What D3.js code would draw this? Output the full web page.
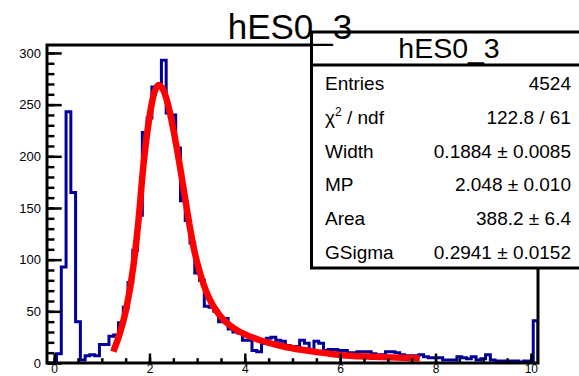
<!DOCTYPE html>
<html><head><meta charset="utf-8">
<script src="https://cdn.jsdelivr.net/npm/d3@7"></script>
<style>
html,body{margin:0;padding:0;background:#fff;}
svg{display:block;font-family:"Liberation Sans",Arial,Helvetica,sans-serif;}
</style></head>
<body>
<svg id="c" width="579" height="376"></svg>
<script>
// ---- data ----
const histTitle = "hES0_3";
const xRange = [-0.15, 10.15];
const binWidth = 0.1;
// counts per bin, bins start at -0.15 in steps of 0.1 (centres -0.1 ... 10.1)
const counts = [
  0, 0, 9, 93, 243, 165, 40, 3, 7, 8, 7,
  18, 18, 26, 27, 39, 54, 78, 109, 143, 223,
  237, 267, 268, 293, 242, 240, 208, 157, 138, 116,
  87, 80, 55, 54, 50, 40, 43, 33, 30, 29,
  22, 22, 12, 11, 19, 24, 25, 22, 21, 17,
  16, 16, 22, 19, 12, 21, 19, 12, 13, 13,
  12, 12, 10, 10, 11, 11, 11, 9, 8, 8,
  11, 11, 10, 8, 7, 7, 7, 8, 6, 5,
  5, 5, 3, 3, 3, 6, 5, 4, 6, 3,
  4, 8, 3, 2, 2, 1, 2, 2, 1, 2,
  2, 41
];
// fit curve
const fitX = [1.24, 1.38, 1.52, 1.66, 1.77, 1.87, 1.98, 2.08, 2.19, 2.29, 2.40, 2.50, 2.64, 2.78, 2.92, 3.06, 3.20, 3.34, 3.55, 3.76, 4.04, 4.32, 4.81, 5.16, 5.51, 5.86, 6.21, 6.70, 7.20, 7.67];
const fitY = [11, 29, 54, 93, 138, 190, 232, 258, 269, 264, 248, 226, 190, 150, 113, 87, 68, 55, 42, 34, 27, 22, 16, 13, 10.5, 8.5, 7, 6, 5.2, 4.6];
const yMax = 307.7;
const yMajor = [0, 50, 100, 150, 200, 250, 300];
const xMajor = [0, 2, 4, 6, 8, 10];
const statLabels = ["Entries", "χ2 / ndf", "Width", "MP", "Area", "GSigma"];
const statValues = ["4524", "122.8 / 61", "0.1884 ± 0.0085", "2.048 ± 0.010", "388.2 ± 6.4", "0.2941 ± 0.0152"];

// ---- layout ----
const svg = d3.select("#c");
const L = 47, R = 538, T = 45, B = 363;
const x = d3.scaleLinear().domain(xRange).range([L, R]);
const y = d3.scaleLinear().domain([0, yMax]).range([B, T]);

svg.append("defs").append("clipPath").attr("id","clip")
  .append("rect").attr("x",L).attr("y",T).attr("width",R-L).attr("height",B-T);

// histogram step outline
const pts = [[x(xRange[0]), y(0)]];
counts.forEach((c,i)=>{
  const lo = xRange[0] + i*binWidth, hi = lo + binWidth;
  pts.push([x(lo), y(c)]); pts.push([x(hi), y(c)]);
});
pts.push([x(xRange[0] + counts.length*binWidth), y(0)]);
svg.append("path").attr("clip-path","url(#clip)")
  .attr("d", d3.line()(pts))
  .attr("fill","none").attr("stroke","#000099").attr("stroke-width",3)
  .attr("stroke-linejoin","miter");

// fit curve
const fitPts = fitX.map((v,i)=>[v, fitY[i]]);
svg.append("path").attr("clip-path","url(#clip)")
  .attr("d", d3.line().x(d=>x(d[0])).y(d=>y(d[1])).curve(d3.curveMonotoneX)(fitPts))
  .attr("fill","none").attr("stroke","#ff0000").attr("stroke-width",6.5)
  .attr("stroke-linecap","butt");

// axes
const yMinor = d3.range(0, 301, 10);
const gy = svg.append("g").attr("transform",`translate(${L},0)`);
gy.call(d3.axisLeft(y).tickValues(yMinor).tickSize(-7.4).tickFormat(""));
gy.call(g=>g.select(".domain").remove());
const gy2 = svg.append("g").attr("transform",`translate(${L},0)`);
gy2.call(d3.axisLeft(y).tickValues(yMajor).tickSize(-14.7).tickPadding(6).tickFormat(d3.format("d")));
gy2.select(".domain").remove();
const xMinor = d3.range(0, 10.01, 0.5);
const gx = svg.append("g").attr("transform",`translate(0,${B})`);
gx.call(d3.axisBottom(x).tickValues(xMinor).tickSize(-4.8).tickFormat(""));
gx.select(".domain").remove();
const gx2 = svg.append("g").attr("transform",`translate(0,${B})`);
gx2.call(d3.axisBottom(x).tickValues(xMajor).tickSize(-9.5).tickPadding(1).tickFormat(d3.format("d")));
gx2.select(".domain").remove();
svg.selectAll(".tick line").attr("stroke","#000").attr("stroke-width",2.5);
svg.selectAll(".tick text").attr("font-family","Liberation Sans, Arial, sans-serif")
  .attr("font-size",13).attr("fill","#000");
gx2.selectAll(".tick text").attr("font-size",12);

// frame
svg.append("rect").attr("x",L).attr("y",T).attr("width",R-L).attr("height",B-T)
  .attr("fill","none").attr("stroke","#000").attr("stroke-width",3);

// stats box
const bx = 311.5, by = 32, bw = 280, bh = 236, th = 33;
svg.append("rect").attr("x",bx).attr("y",by).attr("width",bw).attr("height",bh)
  .attr("fill","#fff").attr("stroke","#000").attr("stroke-width",3);
svg.append("line").attr("x1",bx).attr("x2",bx+bw).attr("y1",by+th).attr("y2",by+th)
  .attr("stroke","#000").attr("stroke-width",3);
svg.append("text").attr("x",449).attr("y",by+th-7).attr("text-anchor","middle")
  .attr("font-size",28.5).text(histTitle);
const rowH = (bh-th)/statLabels.length;
statLabels.forEach((lab,i)=>{
  const yy = by+th + rowH*(i+0.5) + 8;
  const t = svg.append("text").attr("x",325).attr("y",yy).attr("font-size",19);
  if(lab.startsWith("χ2")){
    t.append("tspan").text("χ");
    t.append("tspan").attr("font-size",12).attr("dy",-8).text("2");
    t.append("tspan").attr("dy",8).text(" / ndf");
  } else t.text(lab);
  svg.append("text").attr("x",571).attr("y",yy).attr("text-anchor","end")
    .attr("font-size",19).text(statValues[i]);
});

// main title (drawn on top)
svg.append("text").attr("x",290).attr("y",39).attr("text-anchor","middle")
  .attr("font-size",35).text(histTitle);
</script>
</body></html>
